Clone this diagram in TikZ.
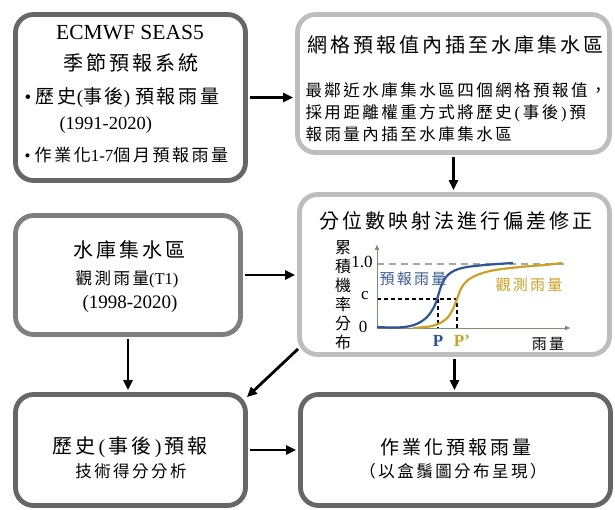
\documentclass[tikz,border=0pt]{standalone}
\usepackage{fontspec}
\setmainfont{Liberation Serif}
\newfontfamily\cjk{Noto Sans CJK TC}[LetterSpace=15]
\newcommand{\zh}[1]{{\cjk #1}}
\usetikzlibrary{arrows.meta,positioning}

\definecolor{boxdark}{HTML}{666666}
\definecolor{boxmid}{HTML}{7F7F7F}
\definecolor{boxlight}{HTML}{BDBDBD}
\definecolor{fcblue}{HTML}{2F5597}
\definecolor{obsgold}{HTML}{C9A227}
\definecolor{axisgray}{HTML}{7A8F7A}

\tikzset{
  flowbox/.style={draw=#1, line width=4.8pt, rounded corners=18pt, fill=white, inner sep=0pt},
  flowarrow/.style={-{Triangle[length=10pt,width=9pt]}, line width=2.8pt, black, shorten >=2pt, shorten <=2pt},
  big/.style={font=\fontsize{20}{24}\selectfont},
  small/.style={font=\fontsize{16.5}{22}\selectfont},
  tiny/.style={font=\fontsize{15}{19}\selectfont},
}

\begin{document}
\begin{tikzpicture}[x=1pt,y=-1pt]
        \useasboundingbox (0,0) rectangle (615,510);

        % Boxes
        \node[flowbox=boxdark, minimum width=230pt, minimum height=166pt] (ecmwf) at (130.5,97.5) {};
        \node[flowbox=boxlight, minimum width=312pt, minimum height=138pt] (interp) at (453.5,83.5) {};
        \node[flowbox=boxmid, minimum width=225pt, minimum height=119pt] (obs) at (128,275) {};
        \node[flowbox=boxlight, minimum width=310pt, minimum height=160pt] (qm) at (454.5,274.5) {};
        \node[flowbox=boxdark, minimum width=230pt, minimum height=111pt] (hind) at (130.5,450) {};
        \node[flowbox=boxdark, minimum width=310pt, minimum height=111pt] (oper) at (455.5,450) {};

        % Box texts
        \node[font=\fontsize{21.5}{24}\selectfont] (ecmwftitle) at (130,33) {ECMWF SEAS5};
        \node[big] (ecmwfsub) at (131,63) {\zh{季節預報系統}};
        \node[font=\fontsize{19}{22}\selectfont, anchor=west] (ecmwfhind) at (21,98) {•\ \zh{歷史}(\zh{事後}) \zh{預報雨量}};
        \node[font=\fontsize{18.5}{22}\selectfont, anchor=west] (ecmwfyears) at (56,125) {(1991-2020)};
        \node[font=\fontsize{17}{22}\selectfont, anchor=west] (ecmwfoper) at (21,155) {•\ \zh{作業化}1-7\zh{個月預報雨量}};

        \node[big] (interptitle) at (455,45) {\zh{網格預報值內插至水庫集水區}};
        \node[small, anchor=west, align=left] (interptext) at (302,112)
          {\zh{最鄰近水庫集水區四個網格預報值，}\\
           \zh{採用距離權重方式將歷史}\,(\,\zh{事後}\,)\,\zh{預}\\
           \zh{報雨量內插至水庫集水區}};

        \node[big] (obstitle) at (129,250) {\zh{水庫集水區}};
        \node[small] (obsname) at (127,279) {\zh{觀測雨量}(T1)};
        \node[font=\fontsize{19}{22}\selectfont] (obsyears) at (130,304) {(1998-2020)};

        \node[big] (qmtitle) at (456,221) {\zh{分位數映射法進行偏差修正}};

        % CDF chart
        \coordinate (origin) at (377,328);
        \draw[gray!70, line width=2pt, dash pattern=on 7pt off 5pt] (origin |- 0,264) -- (565,264);
        \draw[black, line width=1.3pt, dash pattern=on 4pt off 3pt] (origin |- 0,299) -- (457,299) -- (457,328);
        \draw[black, line width=1.3pt, dash pattern=on 4pt off 3pt] (438,299) -- (438,328);
        \draw[axisgray, line width=1pt, -{Latex[length=6pt,width=5pt]}] (origin) -- (377,244);
        \draw[axisgray, line width=1pt, -{Latex[length=6pt,width=5pt]}] (origin) -- (571,328);
        \draw[obsgold, line width=2.2pt] plot[smooth, tension=0.6] coordinates
          {(413,328) (432,326) (445,320) (452,311) (457,299) (462,287) (471,278) (490,271) (520,267) (545,265) (562,263)};
        \draw[fcblue, line width=2.2pt] plot[smooth, tension=0.6] coordinates
          {(377,327) (398,327.5) (414,325) (426,318) (434,307) (438,296) (442,284) (449,274) (462,268) (485,265) (513,263)};

        \node[font=\fontsize{17}{19}\selectfont] (one) at (362,262) {1.0};
        \node[font=\fontsize{17}{19}\selectfont] (clevel) at (365,296) {c};
        \node[font=\fontsize{17}{19}\selectfont] (zero) at (363,327) {0};
        \node[font=\bfseries\fontsize{17}{19}\selectfont, text=fcblue] (pfc) at (438,341) {P};
        \node[font=\bfseries\fontsize{17}{19}\selectfont, text=obsgold] (pobs) at (462,341) {P’};
        \node[tiny, text=fcblue!85!gray] (fclabel) at (413,279) {\zh{預報雨量}};
        \node[tiny, text=obsgold] (obslabel) at (529,285) {\zh{觀測雨量}};
        \node[tiny] (xlabel) at (548,344) {\zh{雨量}};
        \node[font=\fontsize{16}{19}\selectfont, align=center] (ylabel) at (343,295)
          {\zh{累}\\\zh{積}\\\zh{機}\\\zh{率}\\\zh{分}\\\zh{布}};

        \node[big] (hindtitle) at (130,447) {\zh{歷史}\,(\,\zh{事後}\,)\,\zh{預報}};
        \node[small] (hindsub) at (131,471) {\zh{技術得分分析}};
        \node[font=\fontsize{19}{24}\selectfont] (opertitle) at (456,447) {\zh{作業化預報雨量}};
        \node[font=\fontsize{16.5}{20}\selectfont] (opersub) at (453,471) {\zh{（以盒鬚圖分布呈現）}};

        % Arrows
        \coordinate (qmcorner) at ([xshift=1pt,yshift=8pt]qm.south west);
        \coordinate (hindcorner) at ([xshift=-1pt,yshift=-5pt]hind.north east);
        \draw[flowarrow] (ecmwf.east) -- (ecmwf.east -| interp.west);
        \draw[flowarrow] (interp.south) -- (interp.south |- qm.north);
        \draw[flowarrow] (obs.east) -- (obs.east -| qm.west);
        \draw[flowarrow] (obs.south) -- (obs.south |- hind.north);
        \draw[flowarrow, shorten <=0pt, shorten >=0pt] (qmcorner) -- (hindcorner);
        \draw[flowarrow] (qm.south) -- (qm.south |- oper.north);
        \draw[flowarrow] (hind.east) -- (hind.east -| oper.west);
    \end{tikzpicture}
\end{document}
